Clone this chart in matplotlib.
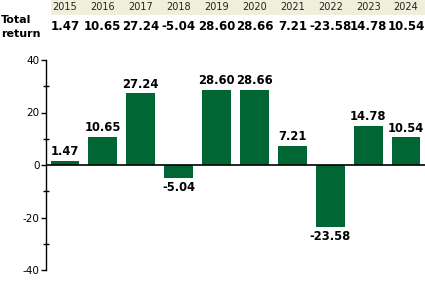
import matplotlib
matplotlib.use("Agg")
import matplotlib.pyplot as plt
from matplotlib.patches import Rectangle
from matplotlib.ticker import MultipleLocator

plt.rcParams["axes.unicode_minus"] = False

years = ["2015", "2016", "2017", "2018", "2019", "2020", "2021", "2022", "2023", "2024"]
returns = [1.47, 10.65, 27.24, -5.04, 28.60, 28.66, 7.21, -23.58, 14.78, 10.54]

W, H = 425, 288
fig = plt.figure(figsize=(W / 100, H / 100), dpi=100)
ax = fig.add_axes([46 / W, 1 - 270 / H, 379 / W, 210 / H])

x = list(range(len(years)))
ax.bar(x, returns, width=0.76, color="#006633")
ax.set_xlim(-0.5, len(years) - 0.5)
ax.set_ylim(-40, 40)
ax.axhline(0, color="black", lw=1.2)

for s in ["top", "right", "bottom"]:
    ax.spines[s].set_visible(False)
ax.spines["left"].set_linewidth(1)
ax.set_xticks([])
ax.yaxis.set_major_locator(MultipleLocator(20))
ax.yaxis.set_minor_locator(MultipleLocator(10))
ax.tick_params(axis="y", which="major", direction="out", length=3.5, width=1,
               labelsize=7.5, pad=1)
ax.tick_params(axis="y", which="minor", direction="inout", length=4.5, width=1)

for xi, v in zip(x, returns):
    if v >= 0:
        ax.annotate(f"{v:.2f}", (xi, v), xytext=(0, 2), textcoords="offset points",
                    ha="center", va="bottom", fontsize=8.3, fontweight="bold")
    else:
        ax.annotate(f"{v:.2f}", (xi, v), xytext=(0, -2), textcoords="offset points",
                    ha="center", va="top", fontsize=8.3, fontweight="bold")

# header table above the chart
hdr = fig.add_axes([0, 0, 1, 1], zorder=-1)
hdr.set_xlim(0, W)
hdr.set_ylim(H, 0)
hdr.axis("off")
hdr.add_patch(Rectangle((51, 0), W - 51, 15, color="#efefdc", lw=0))
slot = 379 / len(years)
for i, (yr, v) in enumerate(zip(years, returns)):
    cx = 46 + slot * (i + 0.5)
    hdr.text(cx, 7.5, yr, ha="center", va="center", fontsize=7, color="#222222")
    hdr.text(cx, 27, f"{v:.2f}", ha="center", va="center", fontsize=8.5, fontweight="bold")
hdr.text(1, 20, "Total", ha="left", va="center", fontsize=8, fontweight="bold")
hdr.text(1, 34, "return", ha="left", va="center", fontsize=8, fontweight="bold")

fig.savefig("out.png", dpi=100)
